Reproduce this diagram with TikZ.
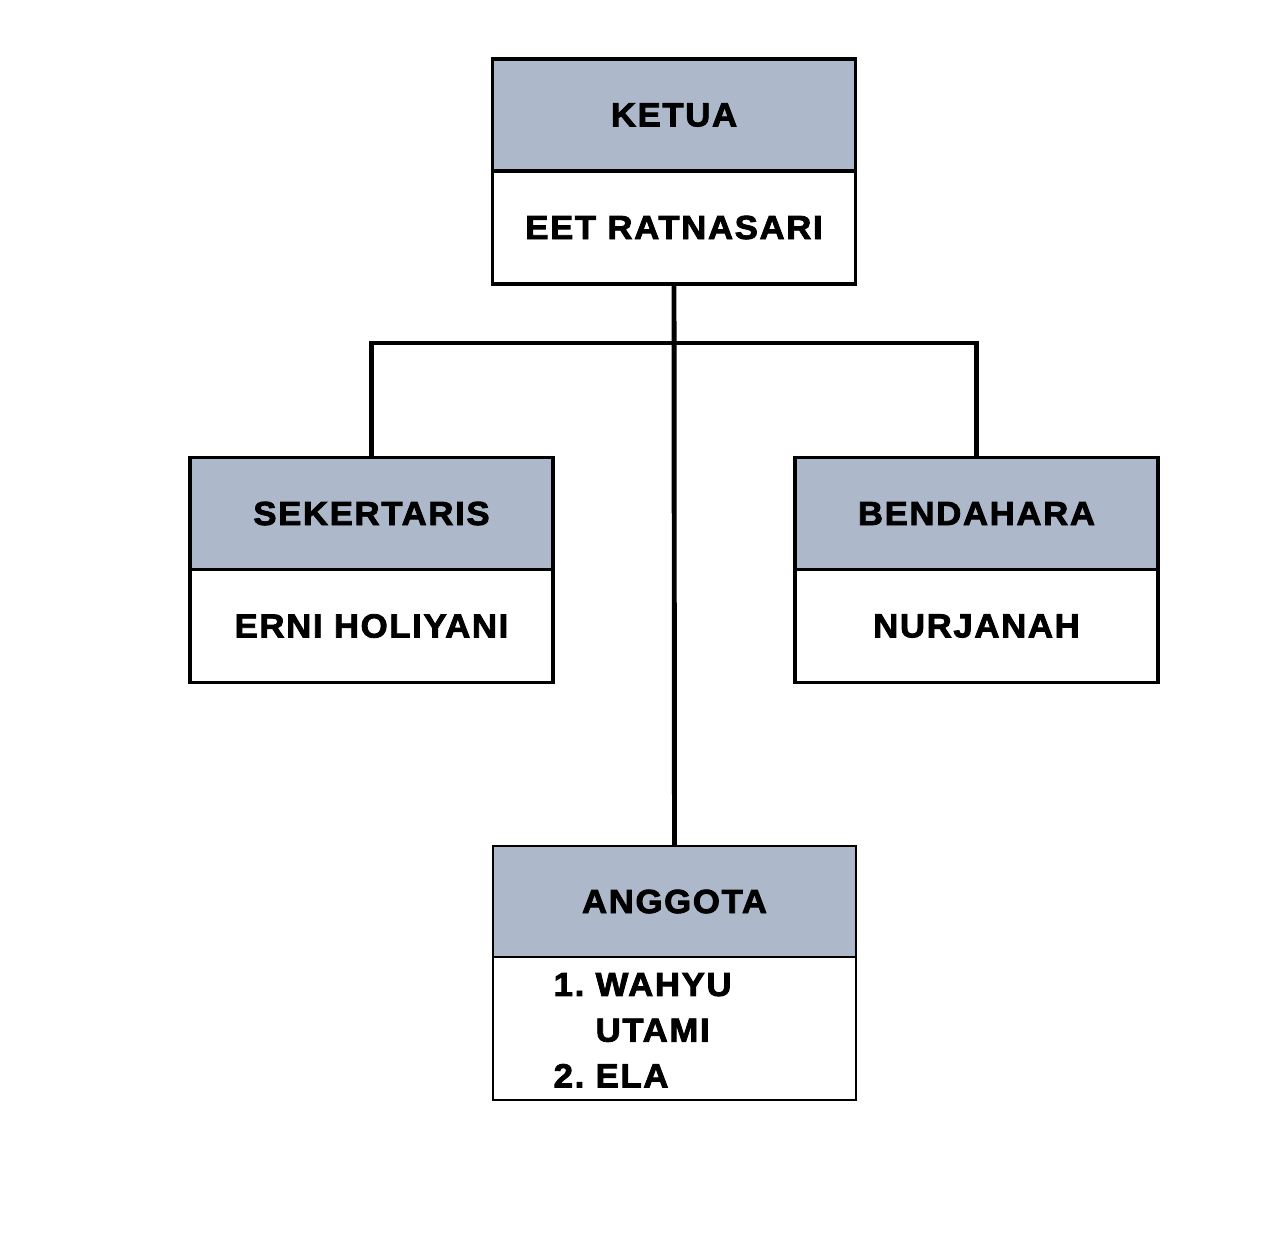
\documentclass[tikz,border=0pt]{standalone}
\usepackage{fontspec}
\newfontfamily\orgfont[LetterSpace=5, BoldFeatures={FakeBold=2.5, FakeStretch=1.04}]{Liberation Sans}
\usepackage{tikz}
\usetikzlibrary{positioning}
\definecolor{headfill}{HTML}{ADB9CA}

\begin{document}
\begin{tikzpicture}[
    box/.style={draw=black, line width=1pt, outer sep=0pt, inner sep=0pt, minimum width=3.63cm,
                font=\orgfont\fontsize{9.5}{13}\selectfont\bfseries},
    head/.style={box, fill=headfill, minimum height=1.12cm},
    body/.style={box, fill=white, minimum height=1.13cm},
    thinbox/.style={line width=0.5pt},
    link/.style={draw=black, line width=1.4pt},
    listtext/.style={inner sep=0pt, anchor=west, font=\orgfont\fontsize{9.5}{13}\selectfont\bfseries},
]

\useasboundingbox (0,0) rectangle (12.87,-12.37);

% ── ketua ──
\node[head] (ketua) at (6.74,-1.15) {KETUA};
\node[body, below=0pt of ketua] (ketuaname) {EET RATNASARI};

% ── sekertaris & bendahara ──
\node[head] (sekertaris) at (3.715,-5.135) {SEKERTARIS};
\node[body, below=0pt of sekertaris] (sekname) {ERNI HOLIYANI};

\node[head] (bendahara) at (9.765,-5.135) {BENDAHARA};
\node[body, below=0pt of bendahara] (benname) {NURJANAH};

% ── anggota ──
\node[head, thinbox, minimum height=1.11cm] (anggota) at (6.745,-9.015) {ANGGOTA};
\node[body, thinbox, minimum height=1.43cm, below=0pt of anggota] (anggotalist) {};
\node[listtext, xshift=0.6cm, yshift=-0.04cm] (members) at (anggotalist.west)
    {\begin{tabular}{@{}l@{\ }l@{}}1. & WAHYU\\ & UTAMI\\ 2. & ELA\end{tabular}};

% ── connectors ──
\coordinate (bus) at (6.74,-3.43);
\draw[link] (ketuaname.south) -- (anggota.north);
\draw[link] (sekertaris.north) |- (bus) -| (bendahara.north);

\end{tikzpicture}
\end{document}
